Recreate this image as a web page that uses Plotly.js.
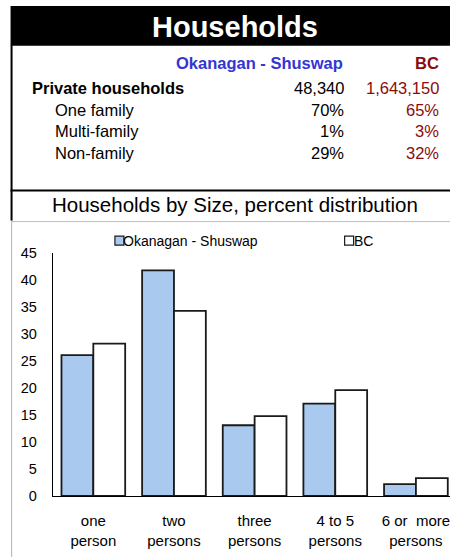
<!DOCTYPE html>
<html>
<head>
<meta charset="utf-8">
<script src="https://cdn.plot.ly/plotly-3.0.1.min.js"></script>
<style>
  html, body { margin: 0; padding: 0; background: #ffffff; overflow: hidden; }
  #chart { width: 450px; height: 557px; }
</style>
</head>
<body>
<div id="chart"></div>
<script>
// ---- Data ----
const categories = ["one<br>person", "two<br>persons", "three<br>persons", "4 to 5<br>persons", "6 or  more<br>persons"];
const regionName = "Okanagan - Shuswap";
const bcName = "BC";
const regionValues = [26.1, 41.8, 13.1, 17.1, 2.2];
const bcValues = [28.2, 34.3, 14.8, 19.6, 3.3];

const headerTitle = "Households";
const chartTitle = "Households by Size, percent distribution";
const rowLabels = ["Private households", "One family", "Multi-family", "Non-family"];
const regionTable = ["48,340", "70%", "1%", "29%"];
const bcTable = ["1,643,150", "65%", "3%", "32%"];

// ---- Layout geometry (pixels) ----
const W = 450, H = 557;
const plotL = 52.5, plotR = 450, plotT = 253.3, plotB = 495.7;
const pw = plotR - plotL, ph = plotB - plotT;
const px = x => (x - plotL) / pw;
const py = y => (plotB - y) / ph;

const FONT = "Liberation Sans, Arial, Helvetica, sans-serif";
const BLUE_FILL = "#a9c9ee";
const EDGE = "#1a1a1a";
const BLUE_TXT = "#3535d2";
const RED_TXT = "#8c0b0b";

const traces = [
  { type: "bar", name: regionName, x: categories, y: regionValues,
    marker: { color: BLUE_FILL, line: { color: EDGE, width: 1.8 } }, hoverinfo: "skip" },
  { type: "bar", name: bcName, x: categories, y: bcValues,
    marker: { color: "#ffffff", line: { color: EDGE, width: 1.8 } }, hoverinfo: "skip" }
];

const shapes = [
  { type: "rect", xref: "paper", yref: "paper", x0: px(10), x1: px(452), y0: py(46.5), y1: py(7),
    fillcolor: "#000000", line: { width: 0 } },
  { type: "line", xref: "paper", yref: "paper", x0: px(11), x1: px(11), y0: py(46), y1: py(221),
    line: { color: "#000000", width: 2 } },
  { type: "line", xref: "paper", yref: "paper", x0: px(10), x1: px(452), y0: py(191), y1: py(191),
    line: { color: "#000000", width: 2 } },
  { type: "line", xref: "paper", yref: "paper", x0: px(11), x1: px(452), y0: py(222), y1: py(222),
    line: { color: "#bdbdbd", width: 1 } },
  { type: "line", xref: "paper", yref: "paper", x0: px(11), x1: px(11), y0: py(222), y1: py(560),
    line: { color: "#bdbdbd", width: 1.2 } },
  { type: "rect", xref: "paper", yref: "paper", x0: px(114.5), x1: px(123.5), y0: py(245.5), y1: py(236.5),
    fillcolor: BLUE_FILL, line: { color: EDGE, width: 1.2 } },
  { type: "rect", xref: "paper", yref: "paper", x0: px(344.5), x1: px(353.5), y0: py(245.5), y1: py(236.5),
    fillcolor: "#ffffff", line: { color: EDGE, width: 1.2 } }
];

const ann = (text, x, y, opts) => Object.assign({
  text: text, xref: "paper", yref: "paper", x: px(x), y: py(y),
  showarrow: false, xanchor: "left", yanchor: "middle", borderpad: 0,
  font: { family: FONT, size: 16.5, color: "#000000" }
}, opts || {});

const annotations = [
  ann("<b>" + headerTitle + "</b>", 235, 28, { xanchor: "center", font: { family: FONT, size: 29, color: "#ffffff" } }),
  ann("<b>" + regionName + "</b>", 344, 64, { xanchor: "right", font: { family: FONT, size: 16.5, color: BLUE_TXT } }),
  ann("<b>" + bcName + "</b>", 439.5, 64, { xanchor: "right", font: { family: FONT, size: 16.5, color: RED_TXT } }),
  ann("<b>" + rowLabels[0] + "</b>", 30, 89),
  ann(rowLabels[1], 54, 111),
  ann(rowLabels[2], 54, 132),
  ann(rowLabels[3], 54, 153.5),
  ann(chartTitle, 235, 205, { xanchor: "center", font: { family: FONT, size: 20.5, color: "#000000" } }),
  ann(regionName, 122, 241.5, { font: { family: FONT, size: 14, color: "#000000" } }),
  ann(bcName, 352.5, 241.5, { font: { family: FONT, size: 14, color: "#000000" } })
];
const rowYs = [89, 111, 132, 153.5];
for (let i = 0; i < rowLabels.length; i++) {
  annotations.push(ann(regionTable[i], 344.5, rowYs[i], { xanchor: "right" }));
  annotations.push(ann(bcTable[i], 439.5, rowYs[i], { xanchor: "right", font: { family: FONT, size: 16.5, color: RED_TXT } }));
}

const layout = {
  width: W, height: H,
  margin: { l: plotL, r: W - plotR, t: plotT, b: H - plotB, pad: 0 },
  paper_bgcolor: "#ffffff", plot_bgcolor: "#ffffff",
  showlegend: false,
  barmode: "group", bargap: 0.21, bargroupgap: 0,
  font: { family: FONT, color: "#000000" },
  xaxis: {
    type: "category", range: [-0.5, -0.5 + pw / 80.75],
    showline: true, linecolor: "#000000", linewidth: 1.2,
    ticks: "", showgrid: false, zeroline: false,
    tickfont: { family: FONT, size: 15, color: "#000000" },
    ticklabelstandoff: 11
  },
  yaxis: {
    range: [0, 45], dtick: 5, tick0: 0,
    showline: true, linecolor: "#000000", linewidth: 1.2,
    ticks: "", showgrid: false, zeroline: false,
    tickfont: { family: FONT, size: 14.5, color: "#000000" },
    ticklabelstandoff: 12
  },
  shapes: shapes,
  annotations: annotations
};

Plotly.newPlot("chart", traces, layout, { staticPlot: true, displayModeBar: false });
</script>
</body>
</html>
